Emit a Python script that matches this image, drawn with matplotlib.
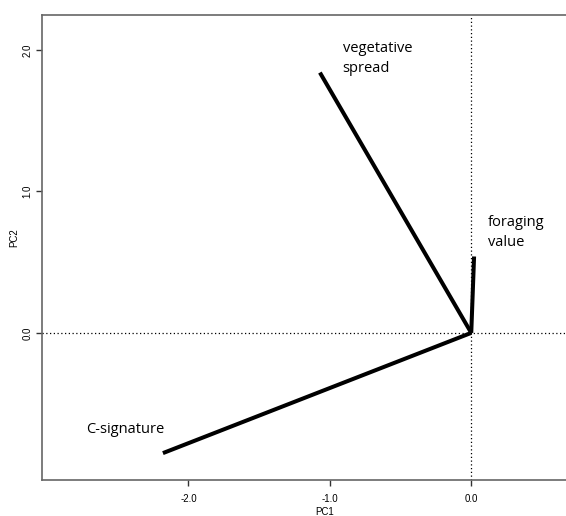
import matplotlib.pyplot as plt

# loadings of the three traits on PC1 / PC2
traits = ['vegetative\nspread', 'foraging\nvalue', 'C-signature']
pc1 = [-1.07, 0.02, -2.18]
pc2 = [1.84, 0.54, -0.85]
label_pos = [(-0.91, 1.94), (0.115, 0.71), (-2.72, -0.685)]

xticks = [-2.0, -1.0, 0.0]
yticks = [0.0, 1.0, 2.0]

fig = plt.figure(figsize=(5.66, 5.16), dpi=100)
ax = fig.add_axes([42/566, 36/516, 1 - 42/566 + 0.01, (480-15)/516])

for x, y in zip(pc1, pc2):
    ax.plot([0, x], [0, y], color='black', lw=2.9, solid_capstyle='butt')

for name, (tx, ty) in zip(traits, label_pos):
    ax.text(tx, ty, name, fontsize=10.5, family='Open Sans', va='center', ha='left',
            linespacing=1.45)

ax.axhline(0, color='black', lw=0.9, ls=(0, (1, 2)))
ax.axvline(0, color='black', lw=0.9, ls=(0, (1, 2)))

ax.set_xlim(-3.035, 0.71)
ax.set_ylim(-1.04, 2.247)
ax.set_xticks(xticks)
ax.set_xticklabels(['%.1f' % t for t in xticks], fontsize=7, family='Liberation Sans')
ax.set_yticks(yticks)
ax.set_yticklabels(['%.1f' % t for t in yticks], fontsize=7, family='Liberation Sans',
                   rotation=90, va='center')
ax.tick_params(length=4, width=1, color='#333333')
ax.tick_params(axis='x', pad=6)
ax.tick_params(axis='y', pad=3)

for s in ['left', 'top', 'bottom']:
    ax.spines[s].set_color('#666666')
    ax.spines[s].set_linewidth(1.2)
ax.spines['right'].set_visible(False)

ax.set_xlabel('PC1', fontsize=7, family='Liberation Sans')
ax.set_ylabel('PC2', fontsize=7, family='Liberation Sans')
ax.xaxis.set_label_coords((322-42)/524, -(512-480)/465)
ax.yaxis.set_label_coords(-(42-15)/524, (480-238)/465)
ax.xaxis.label.set_va('center')
ax.yaxis.label.set_va('center')

fig.savefig('out.png', dpi=100)
